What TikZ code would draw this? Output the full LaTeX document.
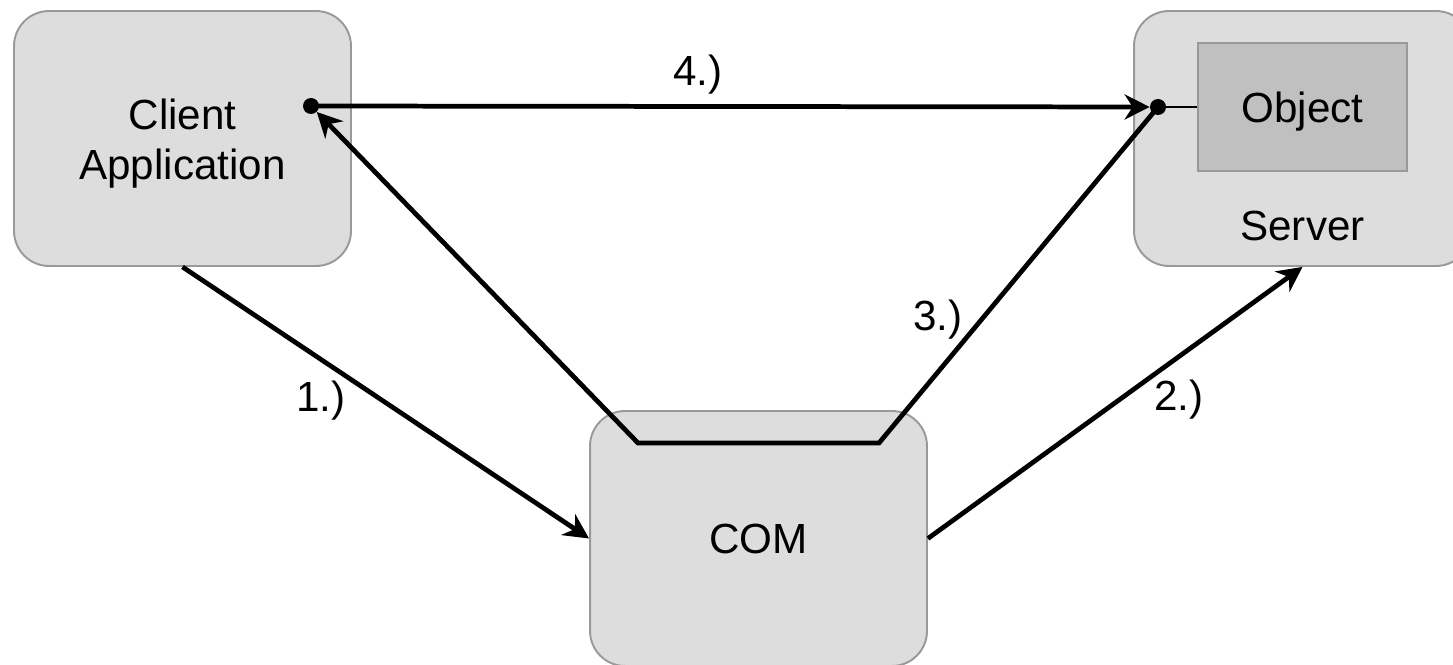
\documentclass[tikz,border=0pt]{standalone}
\usepackage{fontspec}
\setmainfont{Liberation Sans}
\usetikzlibrary{arrows.meta,positioning}

\definecolor{boxgray}{HTML}{DDDDDD}
\definecolor{objgray}{HTML}{C0C0C0}
\definecolor{rimgray}{HTML}{999999}

\begin{document}
\begin{tikzpicture}[x=0.02cm,y=-0.02cm,
    txt/.style={font=\fontsize{24}{28.5}\selectfont},
    box/.style={txt,draw=rimgray,line width=1.1pt,fill=boxgray,
      rounded corners=0.7cm,minimum width=6.74cm,minimum height=5.1cm,
      align=center,inner sep=0pt},
    obj/.style={txt,draw=rimgray,line width=1.1pt,fill=objgray,
      minimum width=4.18cm,minimum height=2.56cm,inner sep=0pt,
      text depth=0pt},
    dot/.style={circle,fill,inner sep=0pt,minimum size=0.32cm},
    flow/.style={line width=2.7pt,
      -{Stealth[length=0.5cm,width=0.5cm,inset=0.16cm]}},
    plain/.style={line width=2.7pt}]
      \useasboundingbox (0,0) rectangle (1453,665);

      \coordinate (C) at (182.5,138.5);
      \coordinate (S) at (1302.5,138.5);
      \coordinate (M) at (758.5,538.5);
      \coordinate (O) at (1302.5,107);
      \coordinate (P) at (311,106);
      \coordinate (Q) at (1158,107);
      \coordinate (R) at (879,443);
      \coordinate (L) at (638,443);

      \node[box] (client) at (C) {};
      \node[box] (server) at (S) {};
      \node[box] (com) at (M) {COM};
      \node[obj] (object) at (O) {Object};
      \node[txt,align=center] (clientlabel) at (182.5,144) {Client\\Application};
      \node[txt] (srvlabel) at (1302.5,226) {Server};

      \node[dot] (cdot) at (P) {};
      \node[dot] (sdot) at (Q) {};

      \draw[line width=0.8pt] (sdot) -- (object.west);

      \draw[flow] (client.south) -- (com.west);
      \draw[flow] (com.east) -- (server.south);
      \draw[flow] (sdot.center) -- (R) -- (L) -- (cdot);
      \draw[flow] (cdot.center) -- (sdot);

      \node[txt] (n1) at (321,401) {1.)};
      \node[txt] (n2) at (1179,400) {2.)};
      \node[txt] (n3) at (938,320) {3.)};
      \node[txt] (n4) at (698,75) {4.)};

    \end{tikzpicture}
\end{document}
